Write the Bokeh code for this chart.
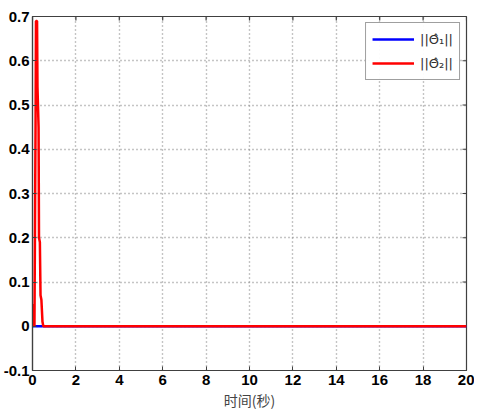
from bokeh.plotting import figure
from bokeh.models import Range1d, FixedTicker, Legend, LegendItem
from bokeh.embed import file_html
from bokeh.resources import INLINE

# data
t1 = [0.0, 0.5, 20.0]
theta1 = [0.0, 0.0, 0.0]

t2 = [0.0, 0.02, 0.07, 0.09, 0.14, 0.16, 0.21, 0.23, 0.28, 0.30, 0.34, 0.37, 0.41, 0.46, 0.50, 20.0]
theta2 = [0.0, 0.05, 0.03, 0.0, 0.45, 0.69, 0.69, 0.54, 0.45, 0.20, 0.19, 0.07, 0.06, 0.01, 0.0, 0.0]

x_ticks = [0, 2, 4, 6, 8, 10, 12, 14, 16, 18, 20]
y_ticks = [-0.1, 0, 0.1, 0.2, 0.3, 0.4, 0.5, 0.6, 0.7]
y_labels = {-0.1: "-0.1", 0: "0", 0.1: "0.1", 0.2: "0.2", 0.3: "0.3", 0.4: "0.4",
            0.5: "0.5", 0.6: "0.6", 0.7: "0.7"}
x_min, x_max = 0, 20
y_min, y_max = -0.1, 0.7

p = figure(width=474, height=412, output_backend="svg", toolbar_location=None,
           x_range=Range1d(x_min, x_max), y_range=Range1d(y_min, y_max),
           min_border_left=0, min_border_right=8, min_border_top=16, min_border_bottom=0,
           background_fill_color="white", border_fill_color="white")

p.outline_line_color = "#404040"
p.outline_line_width = 1.2

for ax in (p.xaxis[0], p.yaxis[0]):
    ax.major_label_text_font = "Liberation Sans"
    ax.major_label_text_font_style = "bold"
    ax.major_label_text_font_size = "15px"
    ax.major_label_text_color = "black"
    ax.axis_line_color = "#404040"
    ax.axis_line_width = 1.2
    ax.major_tick_in = 4
    ax.major_tick_out = 0
    ax.minor_tick_line_color = None
    ax.major_tick_line_color = "#404040"

p.xaxis[0].ticker = FixedTicker(ticks=x_ticks)
p.yaxis[0].ticker = FixedTicker(ticks=y_ticks)
p.yaxis[0].major_label_overrides = {k: v for k, v in y_labels.items()}
p.yaxis[0].major_label_standoff = 3
p.xaxis[0].major_label_standoff = 4
p.xaxis[0].axis_label = "时间(秒)"
p.xaxis[0].axis_label_text_font = "Noto Sans CJK SC"
p.xaxis[0].axis_label_text_font_style = "normal"
p.xaxis[0].axis_label_text_font_size = "14px"
p.xaxis[0].axis_label_standoff = 2

for g in (p.xgrid[0], p.ygrid[0]):
    g.grid_line_color = "#8a8a8a"
    g.grid_line_dash = "1 3"
    g.grid_line_width = 1.4
p.xgrid[0].ticker = FixedTicker(ticks=x_ticks)
p.ygrid[0].ticker = FixedTicker(ticks=y_ticks)

# box ticks on the top and right edges (inward, clipped by the frame)
p.scatter(x_ticks, [y_max] * len(x_ticks), marker="dash", angle=1.5708, size=8,
          line_color="#404040", line_width=1.2)
p.scatter([x_max] * len(y_ticks), y_ticks, marker="dash", size=8,
          line_color="#404040", line_width=1.2)

r1 = p.line(t1, theta1, line_color="#0000ff", line_width=2.5)
r2 = p.line(t2, theta2, line_color="#ff0000", line_width=2.5)

legend = Legend(items=[LegendItem(label="||Θ\u0302₁||", renderers=[r1]),
                       LegendItem(label="||Θ\u0302₂||", renderers=[r2])],
                location="top_right")
legend.border_line_color = "#404040"
legend.border_line_width = 1.2
legend.label_text_font = "DejaVu Sans"
legend.label_text_font_size = "13px"
legend.label_text_color = "#303030"
legend.glyph_width = 42
legend.glyph_height = 20
legend.label_height = 20
legend.spacing = 4
legend.padding = 6
legend.margin = 6
legend.label_standoff = 6
p.add_layout(legend, "center")

open("out.html", "w").write(file_html(p, INLINE))
